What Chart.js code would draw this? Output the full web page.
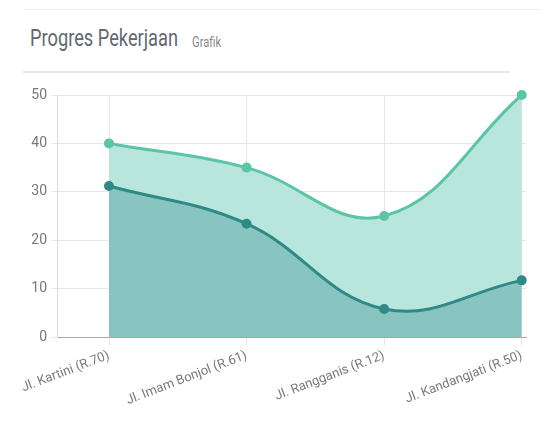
<!DOCTYPE html>
<html>
<head>
<meta charset="utf-8">
<script src="https://cdn.jsdelivr.net/npm/chart.js@4.4.1/dist/chart.umd.min.js"></script>
<style>
  html, body { margin: 0; padding: 0; background: #fff; }
  body { width: 540px; height: 427px; position: relative; overflow: hidden; font-family: Roboto, sans-serif; }
  .top-rule { position: absolute; left: 24px; right: 0; top: 9px; border-top: 1px solid #eeeeee; }
  .head { position: absolute; left: 30px; top: 24px; white-space: nowrap; }
  .head .title { display: inline-block; font-size: 24px; color: #636870; transform: scaleX(0.76); transform-origin: left center; }
  .head .sub { position: absolute; left: 162px; top: 10px; font-size: 14px; color: #8a8a8a; transform: scaleX(0.8); transform-origin: left center; }
  .head-rule { position: absolute; left: 23px; width: 487px; top: 71px; border-top: 2px solid #e8e8e8; }
  .chart-box { position: absolute; left: 0; top: 0; width: 540px; height: 427px; }
</style>
</head>
<body>
<div class="top-rule"></div>
<div class="head"><span class="title">Progres Pekerjaan</span><span class="sub">Grafik</span></div>
<div class="head-rule"></div>
<div class="chart-box"><canvas id="progressChart"></canvas></div>

<script>
// data
const roads = ['Jl. Kartini (R.70)', 'Jl. Imam Bonjol (R.61)', 'Jl. Rangganis (R.12)', 'Jl. Kandangjati (R.50)'];
const target = [40, 35, 25, 50];
const actual = [31.2, 23.4, 5.8, 11.7];
const yTicks = [0, 10, 20, 30, 40, 50];

const toPoints = arr => arr.map((v, i) => ({ x: i, y: v }));

const ctx = document.getElementById('progressChart');

new Chart(ctx, {
    type: 'line',
    data: {
        datasets: [{
            label: 'Realisasi',
            data: toPoints(actual),
            borderColor: '#2f8985',
            backgroundColor: '#88c5c0',
            pointBackgroundColor: '#2f8985',
            pointBorderColor: '#2f8985',
            borderWidth: 3,
            pointRadius: 3.5,
            tension: 0.4,
            fill: 'origin',
            clip: false
        }, {
            label: 'Target',
            data: toPoints(target),
            borderColor: '#5cc5a8',
            backgroundColor: '#b8e6dc',
            pointBackgroundColor: '#5cc5a8',
            pointBorderColor: '#5cc5a8',
            borderWidth: 3,
            pointRadius: 3.5,
            tension: 0.4,
            fill: 'origin',
            clip: false
        }]
    },
    options: {
        responsive: true,
        maintainAspectRatio: false,
        animation: false,
        layout: { padding: { top: 95, right: 14, left: 0, bottom: 0 } },
        plugins: {
            legend: { display: false },
            tooltip: { enabled: false }
        },
        scales: {
            x: {
                type: 'linear',
                min: -0.378,
                max: 3.031,
                afterBuildTicks: scale => { scale.ticks = roads.map((_, i) => ({ value: i })); },
                afterFit: scale => { scale.height = 90; },
                grid: { color: '#e6e6e6', tickLength: 8 },
                border: { color: '#a8a8a8' },
                ticks: {
                    autoSkip: false,
                    minRotation: 21,
                    maxRotation: 21,
                    color: '#7a7a7a',
                    font: { family: 'Roboto', size: 13 },
                    callback: v => roads[v]
                }
            },
            y: {
                min: 0,
                max: 50,
                afterBuildTicks: scale => { scale.ticks = yTicks.map(v => ({ value: v })); },
                afterFit: scale => { scale.width = 57; },
                grid: { color: '#e6e6e6', tickLength: 6 },
                border: { color: '#dcdcdc' },
                ticks: {
                    color: '#777777',
                    font: { family: 'Roboto', size: 14 },
                    padding: 4
                }
            }
        }
    }
});
</script>
</body>
</html>
